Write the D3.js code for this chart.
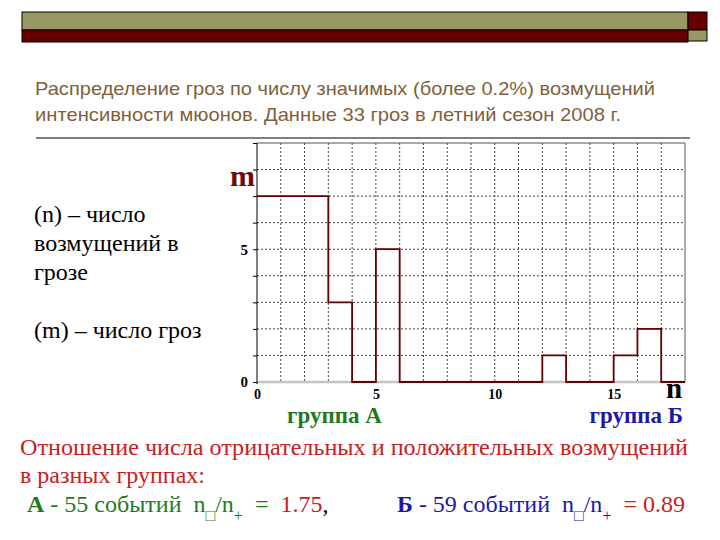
<!DOCTYPE html>
<html>
<head>
<meta charset="utf-8">
<script src="https://cdn.jsdelivr.net/npm/d3@7"></script>
<style>
  body { margin: 0; background: #fff; }
  svg { display: block; }
</style>
</head>
<body>
<div id="chart-area"></div>
<script>
// Распределение гроз по числу возмущений (лето 2008)

var width = 720;
var height = 540;

// n - число возмущений в грозе, m - число гроз
var nValues = [0, 1, 2, 3, 4, 5, 6, 7, 8, 9, 10, 11, 12, 13, 14, 15, 16, 17];
var stormCounts = [7, 7, 7, 3, 0, 5, 0, 0, 0, 0, 0, 0, 1, 0, 0, 1, 2, 0];
var xTicks = [0, 5, 10, 15];
var yTicks = [0, 5];

var titleLines = [
    "Распределение гроз по числу значимых (более 0.2%) возмущений",
    "интенсивности мюонов. Данные 33 гроз в летний сезон 2008 г."
];
var legendLines = ["(n) – число", "возмущений в", "грозе", "", "(m) – число гроз"];
var groupNames = ["группа А", "группа Б"];
var groupLetters = ["А", "Б"];
var eventCounts = [55, 59];
var ratios = ["1.75", "0.89"];

var olive = "#999966";
var maroon = "#660000";
var green = "#1f7a1f";
var blue = "#1a1aa6";
var red = "#c8201f";
var serif = "'Liberation Serif', 'Times New Roman', serif";

var svg = d3.select("#chart-area")
    .append("svg")
    .attr("width", width)
    .attr("height", height);

// decorative header bar
svg.append("rect").attr("x", 22).attr("y", 12).attr("width", 666).attr("height", 18)
    .attr("fill", olive).attr("stroke", "#000");
svg.append("rect").attr("x", 22).attr("y", 30).attr("width", 666).attr("height", 12)
    .attr("fill", maroon).attr("stroke", "#000");
svg.append("rect").attr("x", 688).attr("y", 12).attr("width", 19).attr("height", 18)
    .attr("fill", maroon).attr("stroke", "#000");
svg.append("rect").attr("x", 688).attr("y", 30).attr("width", 19).attr("height", 11)
    .attr("fill", olive).attr("stroke", "#000");

// title
var titleLen = [620, 586];
svg.selectAll(".title")
    .data(titleLines)
    .enter()
    .append("text")
    .attr("class", "title")
    .attr("x", 35)
    .attr("y", function(d, i) { return 95 + i * 26; })
    .attr("textLength", function(d, i) { return titleLen[i]; })
    .attr("lengthAdjust", "spacingAndGlyphs")
    .attr("font-family", "'Liberation Sans Narrow', 'Arial Narrow', 'Liberation Sans', sans-serif")
    .attr("font-size", 19)
    .attr("fill", "#7f5f3c")
    .text(function(d) { return d; });

svg.append("line")
    .attr("x1", 36).attr("x2", 690)
    .attr("y1", 138).attr("y2", 138)
    .attr("stroke", "#000").attr("stroke-width", 1);

// plot
var x = d3.scaleLinear().domain([0, 18]).range([257, 685]);
var y = d3.scaleLinear().domain([0, 9]).range([382, 143]);

var grid = svg.append("g");
grid.selectAll(".vgrid")
    .data(d3.range(1, 18))
    .enter()
    .append("line")
    .attr("x1", function(d) { return x(d); })
    .attr("x2", function(d) { return x(d); })
    .attr("y1", y(9)).attr("y2", y(0))
    .attr("stroke", "#444")
    .attr("stroke-width", 1)
    .attr("stroke-dasharray", "2,2");
grid.selectAll(".hgrid")
    .data(d3.range(1, 9))
    .enter()
    .append("line")
    .attr("x1", x(0)).attr("x2", x(18))
    .attr("y1", function(d) { return y(d); })
    .attr("y2", function(d) { return y(d); })
    .attr("stroke", "#444")
    .attr("stroke-width", 1)
    .attr("stroke-dasharray", "2,2");

// frame
svg.append("line").attr("x1", x(0)).attr("x2", x(18)).attr("y1", y(9)).attr("y2", y(9))
    .attr("stroke", "#555");
svg.append("line").attr("x1", x(18)).attr("x2", x(18)).attr("y1", y(9)).attr("y2", y(0))
    .attr("stroke", "#555");
svg.append("line").attr("x1", x(0)).attr("x2", x(18)).attr("y1", y(0)).attr("y2", y(0))
    .attr("stroke", "#c4c4c4").attr("stroke-width", 2.5);

// axes
var yAxis = d3.axisLeft(y)
    .tickValues(d3.range(0, 10))
    .tickSize(4)
    .tickPadding(5)
    .tickFormat(function(d) { return yTicks.indexOf(d) >= 0 ? d : ""; });
var yG = svg.append("g")
    .attr("transform", "translate(" + x(0) + ",0)")
    .call(yAxis);
yG.select(".domain").attr("d", "M0," + y(9) + "V" + (y(0) + 2)).attr("stroke", "#000");
yG.selectAll("text")
    .attr("font-family", serif)
    .attr("font-weight", "bold")
    .attr("font-size", 15)
    .attr("fill", "#000");

var xAxis = d3.axisBottom(x)
    .tickValues(xTicks)
    .tickSize(0)
    .tickPadding(7);
var xG = svg.append("g")
    .attr("transform", "translate(0," + y(0) + ")")
    .call(xAxis);
xG.select(".domain").remove();
xG.selectAll("text")
    .attr("font-family", serif)
    .attr("font-weight", "bold")
    .attr("font-size", 14)
    .attr("fill", "#000");

// step histogram
var points = nValues.map(function(n, i) { return [n, stormCounts[i]]; });
points.push([x.domain()[1], stormCounts[stormCounts.length - 1]]);

var line = d3.line()
    .x(function(d) { return x(d[0]); })
    .y(function(d) { return y(d[1]); })
    .curve(d3.curveStepAfter);

svg.append("path")
    .datum(points)
    .attr("d", line)
    .attr("fill", "none")
    .attr("stroke", maroon)
    .attr("stroke-width", 1.8);

// axis letters
svg.append("text")
    .attr("x", 230).attr("y", 186)
    .attr("font-family", serif)
    .attr("font-weight", "bold")
    .attr("font-size", 30)
    .attr("fill", "#6b0a0a")
    .text("m");
svg.append("text")
    .attr("x", 666).attr("y", 398)
    .attr("font-family", serif)
    .attr("font-weight", "bold")
    .attr("font-size", 29)
    .attr("fill", "#000")
    .text("n");

// left legend text
svg.selectAll(".legend")
    .data(legendLines)
    .enter()
    .append("text")
    .attr("class", "legend")
    .attr("x", 34)
    .attr("y", function(d, i) { return i < 4 ? 222 + i * 29 : 338; })
    .attr("font-family", serif)
    .attr("font-size", 24)
    .attr("fill", "#000")
    .text(function(d) { return d; });

// group labels
svg.append("text")
    .attr("x", 287).attr("y", 423)
    .attr("font-family", serif)
    .attr("font-weight", "bold").attr("font-size", 23)
    .attr("fill", green)
    .text(groupNames[0]);
svg.append("text")
    .attr("x", 683).attr("y", 423)
    .attr("text-anchor", "end")
    .attr("font-family", serif)
    .attr("font-weight", "bold").attr("font-size", 23)
    .attr("fill", blue)
    .text(groupNames[1]);

// ratio text
svg.append("text")
    .attr("x", 20).attr("y", 455)
    .attr("textLength", 668)
    .attr("lengthAdjust", "spacingAndGlyphs")
    .attr("font-family", serif)
    .attr("font-size", 24)
    .attr("fill", red)
    .text("Отношение числа отрицательных и положительных возмущений");
svg.append("text")
    .attr("x", 20).attr("y", 483)
    .attr("font-family", serif)
    .attr("font-size", 24)
    .attr("fill", red)
    .text("в разных группах:");

var startX = [27, 397];
var groupColors = [green, blue];
groupLetters.forEach(function(g, i) {
    var t = svg.append("text")
        .attr("x", startX[i]).attr("y", 512)
        .attr("font-family", serif)
        .attr("font-size", 24)
        .attr("fill", groupColors[i])
        .attr("xml:space", "preserve");
    t.append("tspan").attr("font-weight", "bold").text(g);
    t.append("tspan").text(" - " + eventCounts[i] + " событий  n");
    t.append("tspan").attr("font-size", 16).attr("baseline-shift", "sub").text("□");
    t.append("tspan").text("/n");
    t.append("tspan").attr("font-size", 16).attr("baseline-shift", "sub").text("+");
    if (i === 0) {
        t.append("tspan").text("  =  ");
        t.append("tspan").attr("fill", red).text(ratios[i]);
        t.append("tspan").attr("fill", "#000").text(",");
    } else {
        t.append("tspan").text("  ");
        t.append("tspan").attr("fill", red).text("= " + ratios[i]);
    }
});
</script>
</body>
</html>
